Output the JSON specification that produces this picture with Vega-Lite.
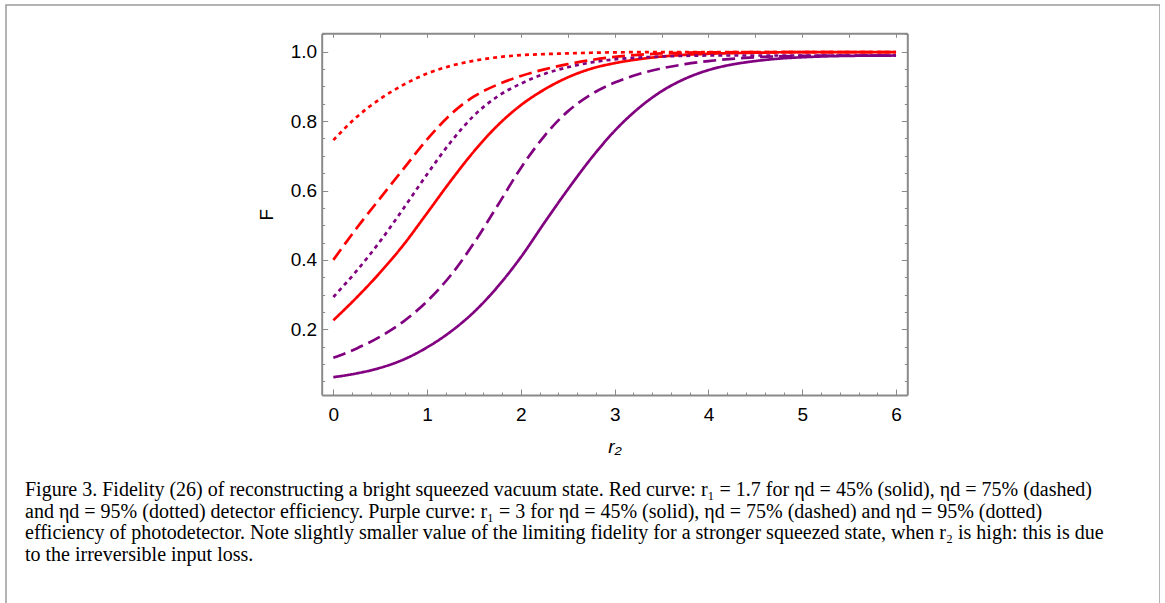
{
  "$schema": "https://vega.github.io/schema/vega-lite/v6.json",
  "width": 1154,
  "height": 600,
  "autosize": {"type": "none"},
  "padding": {"left": 6, "top": 5, "right": 0, "bottom": 0},
  "background": "white",
  "config": {"view": {"stroke": "#9a9a9a", "strokeWidth": 1.5}},
  "title": {
    "text": [
      "Figure 3. Fidelity (26) of reconstructing a bright squeezed vacuum state. Red curve: r₁ = 1.7 for ηd = 45% (solid), ηd = 75% (dashed)",
      "and ηd = 95% (dotted) detector efficiency. Purple curve: r₁ = 3 for ηd = 45% (solid), ηd = 75% (dashed) and ηd = 95% (dotted)",
      "efficiency of photodetector. Note slightly smaller value of the limiting fidelity for a stronger squeezed state, when r₂ is high: this is due",
      "to the irreversible input loss."
    ],
    "orient": "bottom",
    "anchor": "start",
    "frame": "group",
    "align": "left",
    "offset": -125,
    "dx": 19,
    "font": "Liberation Serif",
    "fontSize": 20,
    "fontWeight": "normal",
    "color": "#000000",
    "lineHeight": 21.5
  },
  "data": {
    "values": [
      {"x": 0, "F": 0.226, "r1": "1.7", "eta": "45%"},
      {"x": 0.25, "F": 0.292, "r1": "1.7", "eta": "45%"},
      {"x": 0.5, "F": 0.364, "r1": "1.7", "eta": "45%"},
      {"x": 0.75, "F": 0.444, "r1": "1.7", "eta": "45%"},
      {"x": 1, "F": 0.535, "r1": "1.7", "eta": "45%"},
      {"x": 1.25, "F": 0.627, "r1": "1.7", "eta": "45%"},
      {"x": 1.5, "F": 0.713, "r1": "1.7", "eta": "45%"},
      {"x": 1.75, "F": 0.787, "r1": "1.7", "eta": "45%"},
      {"x": 2, "F": 0.846, "r1": "1.7", "eta": "45%"},
      {"x": 2.25, "F": 0.891, "r1": "1.7", "eta": "45%"},
      {"x": 2.5, "F": 0.926, "r1": "1.7", "eta": "45%"},
      {"x": 2.75, "F": 0.951, "r1": "1.7", "eta": "45%"},
      {"x": 3, "F": 0.967, "r1": "1.7", "eta": "45%"},
      {"x": 3.25, "F": 0.978, "r1": "1.7", "eta": "45%"},
      {"x": 3.5, "F": 0.986, "r1": "1.7", "eta": "45%"},
      {"x": 3.75, "F": 0.991, "r1": "1.7", "eta": "45%"},
      {"x": 4, "F": 0.994, "r1": "1.7", "eta": "45%"},
      {"x": 4.5, "F": 0.997, "r1": "1.7", "eta": "45%"},
      {"x": 5, "F": 0.999, "r1": "1.7", "eta": "45%"},
      {"x": 5.5, "F": 0.999, "r1": "1.7", "eta": "45%"},
      {"x": 6, "F": 0.999, "r1": "1.7", "eta": "45%"},

      {"x": 0, "F": 0.4, "r1": "1.7", "eta": "75%"},
      {"x": 0.25, "F": 0.492, "r1": "1.7", "eta": "75%"},
      {"x": 0.5, "F": 0.578, "r1": "1.7", "eta": "75%"},
      {"x": 0.75, "F": 0.663, "r1": "1.7", "eta": "75%"},
      {"x": 1, "F": 0.747, "r1": "1.7", "eta": "75%"},
      {"x": 1.25, "F": 0.819, "r1": "1.7", "eta": "75%"},
      {"x": 1.5, "F": 0.871, "r1": "1.7", "eta": "75%"},
      {"x": 1.75, "F": 0.905, "r1": "1.7", "eta": "75%"},
      {"x": 2, "F": 0.93, "r1": "1.7", "eta": "75%"},
      {"x": 2.25, "F": 0.949, "r1": "1.7", "eta": "75%"},
      {"x": 2.5, "F": 0.964, "r1": "1.7", "eta": "75%"},
      {"x": 2.75, "F": 0.976, "r1": "1.7", "eta": "75%"},
      {"x": 3, "F": 0.985, "r1": "1.7", "eta": "75%"},
      {"x": 3.25, "F": 0.991, "r1": "1.7", "eta": "75%"},
      {"x": 3.5, "F": 0.995, "r1": "1.7", "eta": "75%"},
      {"x": 3.75, "F": 0.997, "r1": "1.7", "eta": "75%"},
      {"x": 4, "F": 0.998, "r1": "1.7", "eta": "75%"},
      {"x": 5, "F": 0.999, "r1": "1.7", "eta": "75%"},
      {"x": 6, "F": 0.999, "r1": "1.7", "eta": "75%"},

      {"x": 0, "F": 0.745, "r1": "1.7", "eta": "95%"},
      {"x": 0.25, "F": 0.812, "r1": "1.7", "eta": "95%"},
      {"x": 0.5, "F": 0.864, "r1": "1.7", "eta": "95%"},
      {"x": 0.75, "F": 0.905, "r1": "1.7", "eta": "95%"},
      {"x": 1, "F": 0.937, "r1": "1.7", "eta": "95%"},
      {"x": 1.25, "F": 0.959, "r1": "1.7", "eta": "95%"},
      {"x": 1.5, "F": 0.974, "r1": "1.7", "eta": "95%"},
      {"x": 1.75, "F": 0.984, "r1": "1.7", "eta": "95%"},
      {"x": 2, "F": 0.99, "r1": "1.7", "eta": "95%"},
      {"x": 2.25, "F": 0.993, "r1": "1.7", "eta": "95%"},
      {"x": 2.5, "F": 0.995, "r1": "1.7", "eta": "95%"},
      {"x": 2.75, "F": 0.997, "r1": "1.7", "eta": "95%"},
      {"x": 3, "F": 0.998, "r1": "1.7", "eta": "95%"},
      {"x": 3.5, "F": 0.999, "r1": "1.7", "eta": "95%"},
      {"x": 4, "F": 0.999, "r1": "1.7", "eta": "95%"},
      {"x": 5, "F": 0.999, "r1": "1.7", "eta": "95%"},
      {"x": 6, "F": 0.999, "r1": "1.7", "eta": "95%"},

      {"x": 0, "F": 0.062, "r1": "3", "eta": "45%"},
      {"x": 0.25, "F": 0.073, "r1": "3", "eta": "45%"},
      {"x": 0.5, "F": 0.089, "r1": "3", "eta": "45%"},
      {"x": 0.75, "F": 0.113, "r1": "3", "eta": "45%"},
      {"x": 1, "F": 0.148, "r1": "3", "eta": "45%"},
      {"x": 1.25, "F": 0.193, "r1": "3", "eta": "45%"},
      {"x": 1.5, "F": 0.25, "r1": "3", "eta": "45%"},
      {"x": 1.75, "F": 0.322, "r1": "3", "eta": "45%"},
      {"x": 2, "F": 0.408, "r1": "3", "eta": "45%"},
      {"x": 2.25, "F": 0.507, "r1": "3", "eta": "45%"},
      {"x": 2.5, "F": 0.603, "r1": "3", "eta": "45%"},
      {"x": 2.75, "F": 0.693, "r1": "3", "eta": "45%"},
      {"x": 3, "F": 0.772, "r1": "3", "eta": "45%"},
      {"x": 3.25, "F": 0.836, "r1": "3", "eta": "45%"},
      {"x": 3.5, "F": 0.886, "r1": "3", "eta": "45%"},
      {"x": 3.75, "F": 0.922, "r1": "3", "eta": "45%"},
      {"x": 4, "F": 0.947, "r1": "3", "eta": "45%"},
      {"x": 4.25, "F": 0.963, "r1": "3", "eta": "45%"},
      {"x": 4.5, "F": 0.973, "r1": "3", "eta": "45%"},
      {"x": 4.75, "F": 0.98, "r1": "3", "eta": "45%"},
      {"x": 5, "F": 0.984, "r1": "3", "eta": "45%"},
      {"x": 5.5, "F": 0.988, "r1": "3", "eta": "45%"},
      {"x": 6, "F": 0.989, "r1": "3", "eta": "45%"},

      {"x": 0, "F": 0.118, "r1": "3", "eta": "75%"},
      {"x": 0.25, "F": 0.145, "r1": "3", "eta": "75%"},
      {"x": 0.5, "F": 0.179, "r1": "3", "eta": "75%"},
      {"x": 0.75, "F": 0.223, "r1": "3", "eta": "75%"},
      {"x": 1, "F": 0.281, "r1": "3", "eta": "75%"},
      {"x": 1.25, "F": 0.355, "r1": "3", "eta": "75%"},
      {"x": 1.5, "F": 0.449, "r1": "3", "eta": "75%"},
      {"x": 1.75, "F": 0.556, "r1": "3", "eta": "75%"},
      {"x": 2, "F": 0.665, "r1": "3", "eta": "75%"},
      {"x": 2.25, "F": 0.757, "r1": "3", "eta": "75%"},
      {"x": 2.5, "F": 0.828, "r1": "3", "eta": "75%"},
      {"x": 2.75, "F": 0.877, "r1": "3", "eta": "75%"},
      {"x": 3, "F": 0.911, "r1": "3", "eta": "75%"},
      {"x": 3.25, "F": 0.935, "r1": "3", "eta": "75%"},
      {"x": 3.5, "F": 0.952, "r1": "3", "eta": "75%"},
      {"x": 3.75, "F": 0.964, "r1": "3", "eta": "75%"},
      {"x": 4, "F": 0.973, "r1": "3", "eta": "75%"},
      {"x": 4.5, "F": 0.984, "r1": "3", "eta": "75%"},
      {"x": 5, "F": 0.988, "r1": "3", "eta": "75%"},
      {"x": 5.5, "F": 0.989, "r1": "3", "eta": "75%"},
      {"x": 6, "F": 0.989, "r1": "3", "eta": "75%"},

      {"x": 0, "F": 0.293, "r1": "3", "eta": "95%"},
      {"x": 0.25, "F": 0.369, "r1": "3", "eta": "95%"},
      {"x": 0.5, "F": 0.454, "r1": "3", "eta": "95%"},
      {"x": 0.75, "F": 0.549, "r1": "3", "eta": "95%"},
      {"x": 1, "F": 0.647, "r1": "3", "eta": "95%"},
      {"x": 1.25, "F": 0.739, "r1": "3", "eta": "95%"},
      {"x": 1.5, "F": 0.816, "r1": "3", "eta": "95%"},
      {"x": 1.75, "F": 0.871, "r1": "3", "eta": "95%"},
      {"x": 2, "F": 0.908, "r1": "3", "eta": "95%"},
      {"x": 2.25, "F": 0.936, "r1": "3", "eta": "95%"},
      {"x": 2.5, "F": 0.955, "r1": "3", "eta": "95%"},
      {"x": 2.75, "F": 0.969, "r1": "3", "eta": "95%"},
      {"x": 3, "F": 0.978, "r1": "3", "eta": "95%"},
      {"x": 3.25, "F": 0.983, "r1": "3", "eta": "95%"},
      {"x": 3.5, "F": 0.986, "r1": "3", "eta": "95%"},
      {"x": 3.75, "F": 0.988, "r1": "3", "eta": "95%"},
      {"x": 4, "F": 0.989, "r1": "3", "eta": "95%"},
      {"x": 5, "F": 0.989, "r1": "3", "eta": "95%"},
      {"x": 6, "F": 0.989, "r1": "3", "eta": "95%"}
    ]
  },
  "layer": [
    {
      "mark": {"type": "line", "strokeWidth": 2.7, "interpolate": "monotone"},
      "encoding": {
        "x": {
          "field": "x", "type": "quantitative",
          "scale": {"domain": [-0.124, 6.12], "range": [315.7, 901.3], "nice": false, "zero": false},
          "axis": {
            "orient": "bottom", "offset": -210,
            "values": [0,0.2,0.4,0.6,0.8,1,1.2,1.4,1.6,1.8,2,2.2,2.4,2.6,2.8,3,3.2,3.4,3.6,3.8,4,4.2,4.4,4.6,4.8,5,5.2,5.4,5.6,5.8,6],
            "labelExpr": "abs(datum.value - round(datum.value)) < 0.001 ? format(datum.value, 'd') : ''",
            "tickSize": {"condition": {"test": "abs(datum.value - round(datum.value)) < 0.001", "value": -6}, "value": -3},
            "tickColor": "#8a8a8a", "tickWidth": 1,
            "domainColor": "#8a8a8a", "domainWidth": 2,
            "grid": false, "labelOverlap": false, "labelFlush": false, "labelBound": false,
            "labelFont": "Liberation Sans", "labelFontSize": 19, "labelColor": "#000000", "labelPadding": 16,
            "title": "r₂", "titleFont": "Liberation Sans", "titleFontSize": 19, "titleFontStyle": "italic",
            "titleFontWeight": "normal", "titleColor": "#000000", "titlePadding": 10
          }
        },
        "y": {
          "field": "F", "type": "quantitative",
          "scale": {"domain": [0.0107, 1.053], "range": [390, 28.3], "nice": false, "zero": false},
          "axis": {
            "orient": "left", "offset": -315.7,
            "values": [0.05,0.1,0.15,0.2,0.25,0.3,0.35,0.4,0.45,0.5,0.55,0.6,0.65,0.7,0.75,0.8,0.85,0.9,0.95,1.0,1.05],
            "labelExpr": "abs(datum.value*5 - round(datum.value*5)) < 0.001 ? format(datum.value, '.1f') : ''",
            "tickSize": {"condition": {"test": "abs(datum.value*5 - round(datum.value*5)) < 0.001", "value": -6}, "value": -3},
            "tickColor": "#8a8a8a", "tickWidth": 1,
            "domainColor": "#8a8a8a", "domainWidth": 2,
            "grid": false, "labelOverlap": false, "labelFlush": false, "labelBound": false,
            "labelFont": "Liberation Sans", "labelFontSize": 19, "labelColor": "#000000", "labelPadding": 11,
            "title": "F", "titleFont": "Liberation Sans", "titleFontSize": 19,
            "titleFontWeight": "normal", "titleColor": "#000000", "titlePadding": 14
          }
        },
        "color": {
          "field": "r1", "type": "nominal",
          "scale": {"domain": ["1.7", "3"], "range": ["#ff0000", "#800080"]},
          "legend": null
        },
        "strokeDash": {
          "field": "eta", "type": "nominal",
          "scale": {"domain": ["45%", "75%", "95%"], "range": [[1, 0], [13, 6], [4, 4]]},
          "legend": null
        }
      }
    },
    {
      "mark": {"type": "point", "opacity": 0},
      "encoding": {
        "x": {
          "field": "x", "type": "quantitative",
          "scale": {"domain": [-0.124, 6.12], "range": [315.7, 901.3], "nice": false, "zero": false},
          "axis": {
            "orient": "top", "offset": -28.3,
            "values": [0,0.5,1,1.5,2,2.5,3,3.5,4,4.5,5,5.5,6],
            "labels": false, "tickSize": -4,
            "tickColor": "#8a8a8a", "tickWidth": 1,
            "domainColor": "#8a8a8a", "domainWidth": 2,
            "grid": false, "title": null
          }
        },
        "y": {
          "field": "F", "type": "quantitative",
          "scale": {"domain": [0.0107, 1.053], "range": [390, 28.3], "nice": false, "zero": false},
          "axis": {
            "orient": "right", "offset": -252.7,
            "values": [0.05,0.1,0.15,0.2,0.25,0.3,0.35,0.4,0.45,0.5,0.55,0.6,0.65,0.7,0.75,0.8,0.85,0.9,0.95,1.0,1.05],
            "labels": false,
            "tickSize": {"condition": {"test": "abs(datum.value*5 - round(datum.value*5)) < 0.001", "value": -6}, "value": -3},
            "tickColor": "#8a8a8a", "tickWidth": 1,
            "domainColor": "#8a8a8a", "domainWidth": 2,
            "grid": false, "title": null
          }
        }
      }
    }
  ],
  "resolve": {"axis": {"x": "independent", "y": "independent"}}
}
